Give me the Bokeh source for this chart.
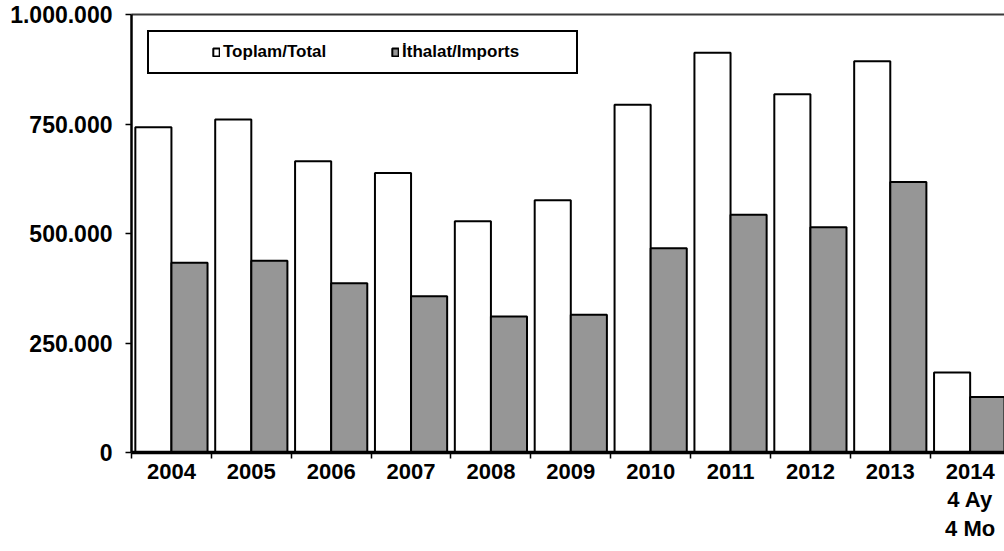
from bokeh.plotting import figure
from bokeh.models import (Range1d, FixedTicker, LinearAxis, Legend, LegendItem,
                          ColumnDataSource)
from bokeh.transform import dodge
from bokeh.embed import file_html
from bokeh.resources import INLINE

# ---- data ----
years = ["2004", "2005", "2006", "2007", "2008", "2009", "2010", "2011",
         "2012", "2013", "2014\n4 Ay\n4 Mo"]
total = [742500, 760500, 665000, 638000, 528000, 576000, 794000, 912500,
         818000, 893000, 182500]
imports = [433500, 438000, 386500, 357000, 310500, 314500, 466500, 543000,
           514500, 617500, 126500]
y_ticks = [0, 250000, 500000, 750000, 1000000]
y_tick_labels = ["0", "250.000", "500.000", "750.000", "1.000.000"]
series_names = ["Toplam/Total", "İthalat/Imports"]

FONT = "Liberation Sans"
BAR_W = 0.452

centers = [i + 0.5 for i in range(len(years))]
source = ColumnDataSource(dict(x=centers, total=total, imports=imports))

p = figure(width=1004, height=551, output_backend="svg", toolbar_location=None,
           x_range=Range1d(0, 10.93), y_range=Range1d(0, 1000000),
           min_border_left=131, min_border_right=0, min_border_top=14,
           min_border_bottom=99)
p.outline_line_color = None
p.background_fill_color = "white"
p.border_fill_color = "white"
p.xgrid.visible = False
p.ygrid.visible = False

r_total = p.vbar(x=dodge("x", -BAR_W / 2, range=p.x_range), top="total", bottom=0,
                 width=BAR_W, source=source, fill_color="white",
                 line_color="black", line_width=2)
r_imp = p.vbar(x=dodge("x", BAR_W / 2, range=p.x_range), top="imports", bottom=0,
               width=BAR_W, source=source, fill_color="#969696",
               line_color="black", line_width=2)

# x axis: labels at centres, tick marks at category boundaries
xa = p.xaxis[0]
xa.ticker = FixedTicker(ticks=centers, minor_ticks=list(range(len(years))))
xa.major_label_overrides = {c: y for c, y in zip(centers, years)}
xa.major_tick_line_color = None
xa.major_tick_in = 0
xa.major_tick_out = 0
xa.minor_tick_line_color = "black"
xa.minor_tick_line_width = 1.5
xa.minor_tick_in = 0
xa.minor_tick_out = 6
xa.axis_line_color = "black"
xa.axis_line_width = 3.5
xa.major_label_text_font = FONT
xa.major_label_text_font_style = "bold"
xa.major_label_text_font_size = "22px"
xa.major_label_text_color = "black"
xa.major_label_text_line_height = 1.15
xa.major_label_standoff = 0

# y axis
ya = p.yaxis[0]
ya.ticker = FixedTicker(ticks=y_ticks)
ya.major_label_overrides = {t: l for t, l in zip(y_ticks, y_tick_labels)}
ya.minor_tick_line_color = None
ya.major_tick_in = 0
ya.major_tick_out = 6
ya.major_tick_line_color = "black"
ya.major_tick_line_width = 1.5
ya.axis_line_color = "black"
ya.axis_line_width = 2.5
ya.major_label_text_font = FONT
ya.major_label_text_font_style = "bold"
ya.major_label_text_font_size = "23px"
ya.major_label_text_color = "black"
ya.major_label_standoff = 13

# top border line
top_axis = LinearAxis(ticker=FixedTicker(ticks=[]), major_label_text_font_size="0px",
                      major_tick_line_color=None, minor_tick_line_color=None,
                      axis_line_color="#3a3a3a", axis_line_width=2,
                      major_label_standoff=0)
p.add_layout(top_axis, "above")

legend = Legend(items=[LegendItem(label=series_names[0], renderers=[r_total]),
                       LegendItem(label=series_names[1], renderers=[r_imp])],
                orientation="horizontal", location="top_left", margin=16,
                padding=10, spacing=4, label_width=164, label_height=18,
                glyph_width=8, glyph_height=10, label_standoff=3,
                title=" ", title_location="left", title_text_font_size="1px",
                title_standoff=52,
                label_text_font=FONT, label_text_font_style="bold",
                label_text_font_size="17px", label_text_color="black",
                border_line_color="black", border_line_width=2,
                border_line_alpha=1,
                background_fill_color="white", background_fill_alpha=1)
p.add_layout(legend, "center")

open("out.html", "w").write(file_html(p, INLINE))
